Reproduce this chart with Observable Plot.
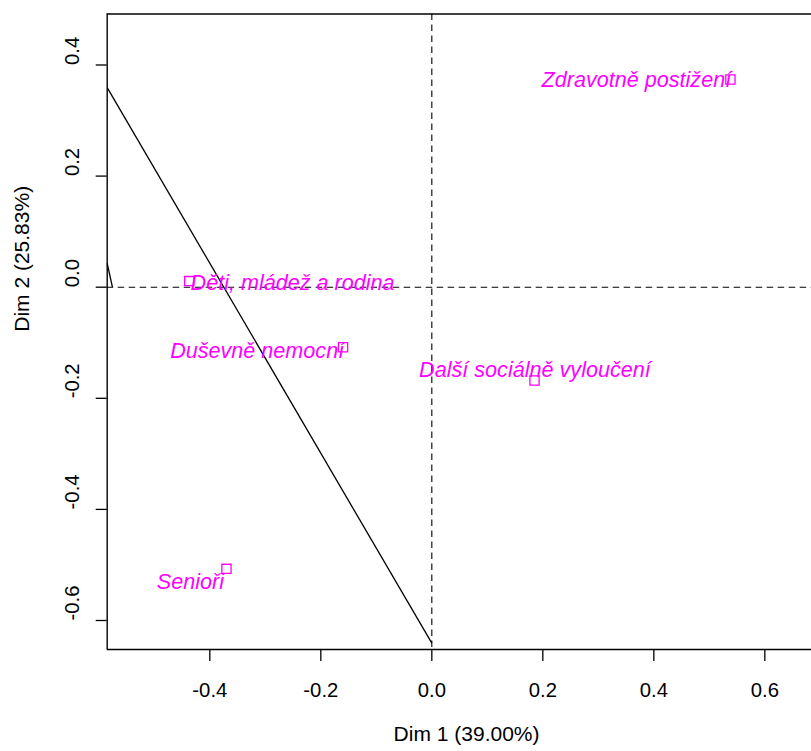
<!DOCTYPE html>
<html>
<head>
<meta charset="utf-8">
<script src="https://cdn.jsdelivr.net/npm/d3@7"></script>
<script src="https://cdn.jsdelivr.net/npm/@observablehq/plot@0.6"></script>
<style>
  html, body { margin: 0; padding: 0; background: #fff; overflow: hidden; }
</style>
</head>
<body>
<div id="chart"></div>
<script>
// Categories (column points of the CA map)
const categories = ["Zdravotně postižení", "Děti, mládež a rodina", "Duševně nemocní", "Další sociálně vyloučení", "Senioři"];
// Coordinates of the points
const dim1 = [0.538, -0.437, -0.160, 0.185, -0.370];
const dim2 = [0.374, 0.011, -0.108, -0.168, -0.507];
// Coordinates of the label centres (as placed in the picture)
const labelDim1 = [0.3685, -0.2509, -0.3147, 0.1858, -0.4349];
const labelDim2 = [0.3734, 0.0067, -0.1145, -0.150, -0.531];
// Solid line segments
const segX1 = [-0.5849, -0.5849];
const segY1 = [0.3593, 0.0427];
const segX2 = [0.0, -0.5755];
const segY2 = [-0.6408, 0.0];
// Axes
const xTicks = [-0.4, -0.2, 0.0, 0.2, 0.4, 0.6];
const yTicks = [-0.6, -0.4, -0.2, 0.0, 0.2, 0.4];
const xDomain = [-0.5849, 0.6841];
const yDomain = [-0.6522, 0.4918];
const xTitle = "Dim 1 (39.00%)";
const yTitle = "Dim 2 (25.83%)";

const points = categories.map((c, i) => ({name: c, x: dim1[i], y: dim2[i], lx: labelDim1[i], ly: labelDim2[i]}));
const segs = segX1.map((d, i) => ({x1: segX1[i], y1: segY1[i], x2: segX2[i], y2: segY2[i]}));
const fmt = d => d.toFixed(1);
const magenta = "#FF00FF";
const font = "'Liberation Sans', Arial, Helvetica, sans-serif";

const chart = Plot.plot({
  width: 811,
  height: 751,
  marginLeft: 106.7,
  marginRight: 0,
  marginTop: 13.5,
  marginBottom: 102,
  style: {fontFamily: font, fontSize: "20px", background: "white", color: "black"},
  x: {domain: xDomain, range: [106.7, 811]},
  y: {domain: yDomain},
  marks: [
    // dashed reference lines
    Plot.ruleY([0], {stroke: "#000", strokeWidth: 1.1, strokeDasharray: "6.5,4.5"}),
    Plot.ruleX([0], {stroke: "#000", strokeWidth: 1.1, strokeDasharray: "6.5,4.5"}),
    // solid segments
    Plot.link(segs, {x1: "x1", y1: "y1", x2: "x2", y2: "y2", stroke: "#000", strokeWidth: 1.3}),
    // frame (right edge falls outside the picture)
    Plot.ruleY([yDomain[0], yDomain[1]], {stroke: "#000", strokeWidth: 1.4}),
    Plot.ruleX([xDomain[0]], {stroke: "#000", strokeWidth: 1.4}),
    // axes
    Plot.axisX(xTicks, {tickSize: 12, tickPadding: 21, tickFormat: fmt, fontSize: 20.3, label: null, strokeWidth: 1.3}),
    Plot.axisY(yTicks, {tickSize: 11, tickFormat: () => "", label: null, strokeWidth: 1.3}),
    Plot.text(yTicks, {y: d => d, text: fmt, frameAnchor: "left", dx: -35, rotate: -90, fontSize: 20.3, fill: "#000"}),
    Plot.text([xTitle], {frameAnchor: "bottom", dx: 7.2, dy: 91.7, fontSize: 21, fill: "#000"}),
    Plot.text([yTitle], {frameAnchor: "left", dx: -85, rotate: -90, fontSize: 21, fill: "#000"}),
    // points and labels
    Plot.dot(points, {x: "x", y: "y", symbol: "square", r: 5.2, stroke: magenta, strokeWidth: 1.3, fill: "none"}),
    Plot.text(points, {x: "lx", y: "ly", text: "name", fill: magenta, fontSize: 21.6, fontStyle: "italic"})
  ]
});
document.getElementById("chart").appendChild(chart);
</script>
</body>
</html>
